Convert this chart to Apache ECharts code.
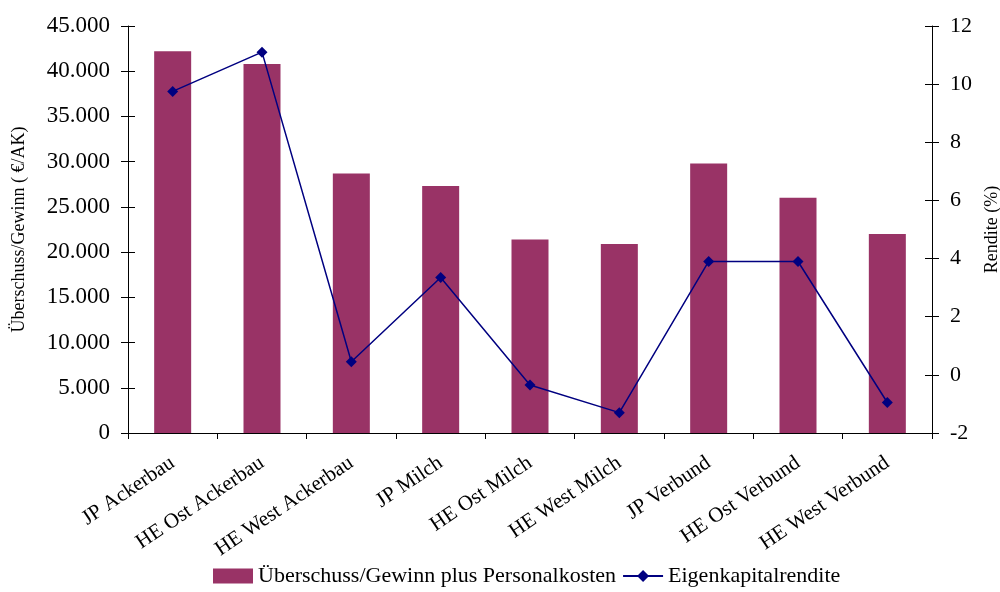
<!DOCTYPE html>
<html>
<head>
<meta charset="utf-8">
<script src="https://cdn.jsdelivr.net/npm/echarts@6/dist/echarts.min.js"></script>
<style>
  html, body { margin: 0; padding: 0; background: #fff; }
  #chart { width: 1000px; height: 592px; }
</style>
</head>
<body>
<div id="chart"></div>
<script>
// Betriebsgruppen
const categories = ['JP Ackerbau', 'HE Ost Ackerbau', 'HE West Ackerbau', 'JP Milch', 'HE Ost Milch',
  'HE West Milch', 'JP Verbund', 'HE Ost Verbund', 'HE West Verbund'];
// Überschuss/Gewinn plus Personalkosten (€/AK)
const gewinnPlusPersonal = [42200, 40800, 28700, 27300, 21400, 20900, 29800, 26000, 22000];
// Eigenkapitalrendite (%)
const eigenkapitalrendite = [9.75, 11.1, 0.45, 3.35, -0.35, -1.3, 3.9, 3.9, -0.95];

const FONT = '"Liberation Serif", "DejaVu Serif", serif';
const leftAxisRange = { min: 0, max: 45000, interval: 5000 };
const rightAxisRange = { min: -2, max: 12, interval: 2 };

const chart = echarts.init(document.getElementById('chart'));

function thousands(v) {
  return String(v).replace(/\B(?=(\d{3})+(?!\d))/g, '.');
}

const baseTick = { show: true, length: 7, lineStyle: { color: '#000', width: 1 } };

chart.setOption({
  animation: false,
  textStyle: { fontFamily: FONT, color: '#000' },
  grid: { left: 128, right: 68, top: 26, bottom: 159, containLabel: false, outerBoundsMode: 'none' },
  legend: {
    bottom: 0,
    left: 208,
    itemWidth: 40,
    itemHeight: 15,
    itemGap: 6,
    textStyle: { fontFamily: FONT, fontSize: 22, color: '#000' },
    data: [
      { name: 'Überschuss/Gewinn plus Personalkosten', icon: 'rect' },
      { name: 'Eigenkapitalrendite' }
    ]
  },
  xAxis: {
    type: 'category',
    data: categories,
    boundaryGap: true,
    axisLine: { show: true, lineStyle: { color: '#000', width: 1 } },
    axisTick: { show: true, length: 6, alignWithLabel: false, lineStyle: { color: '#000' } },
    axisLabel: { rotate: 34, fontSize: 21, margin: 28, color: '#000', fontFamily: FONT, interval: 0 },
    splitLine: { show: false }
  },
  yAxis: [
    {
      type: 'value', position: 'left', ...leftAxisRange,
      name: 'Überschuss/Gewinn ( €/AK)',
      nameLocation: 'middle', nameGap: 100, nameRotate: 90,
      nameTextStyle: { fontSize: 18, fontFamily: FONT, color: '#000' },
      axisLine: { show: true, lineStyle: { color: '#000', width: 1 } },
      axisTick: baseTick,
      axisLabel: { fontSize: 23, margin: 18, color: '#000', fontFamily: FONT, formatter: thousands },
      splitLine: { show: false }
    },
    {
      type: 'value', position: 'right', ...rightAxisRange,
      name: 'Rendite (%)',
      nameLocation: 'middle', nameGap: 49, nameRotate: 90,
      nameTextStyle: { fontSize: 18, fontFamily: FONT, color: '#000' },
      axisLine: { show: true, lineStyle: { color: '#000', width: 1 } },
      axisTick: baseTick,
      axisLabel: { fontSize: 22, margin: 18, color: '#000', fontFamily: FONT },
      splitLine: { show: false }
    },
    {
      // inner half of the crossing ticks on the left axis
      type: 'value', position: 'left', ...leftAxisRange,
      axisLine: { show: false },
      axisTick: { ...baseTick, inside: true },
      axisLabel: { show: false },
      splitLine: { show: false }
    },
    {
      // inner half of the crossing ticks on the right axis
      type: 'value', position: 'right', ...rightAxisRange,
      axisLine: { show: false },
      axisTick: { ...baseTick, inside: true },
      axisLabel: { show: false },
      splitLine: { show: false }
    }
  ],
  series: [
    {
      name: 'Überschuss/Gewinn plus Personalkosten',
      type: 'bar',
      yAxisIndex: 0,
      data: gewinnPlusPersonal,
      barWidth: 37,
      itemStyle: { color: '#993366' }
    },
    {
      name: 'Eigenkapitalrendite',
      type: 'line',
      yAxisIndex: 1,
      data: eigenkapitalrendite,
      symbol: 'diamond',
      symbolSize: 11,
      lineStyle: { color: '#000080', width: 1.5 },
      itemStyle: { color: '#000080' },
      z: 5
    }
  ]
});
</script>
</body>
</html>
